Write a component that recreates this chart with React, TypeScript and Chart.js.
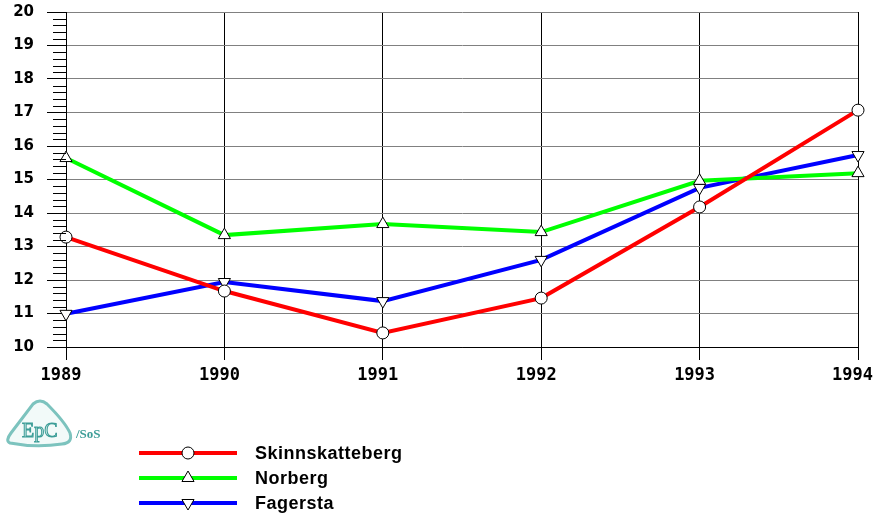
import React, { useEffect, useRef } from 'react';
import { Chart, registerables } from 'chart.js';
Chart.register(...registerables);

const years = ['1989', '1990', '1991', '1992', '1993', '1994'];
const skinnskatteberg = [13.28, 11.67, 10.42, 11.46, 14.18, 17.07];
const norberg = [15.64, 13.34, 13.67, 13.43, 14.96, 15.19];
const fagersta = [10.99, 11.94, 11.37, 12.6, 14.75, 15.73];
const seriesNames = ['Skinnskatteberg', 'Norberg', 'Fagersta'];
const yMin = 10;
const yMax = 20;

function drawMarker(ctx: CanvasRenderingContext2D, style: string, rotation: number, x: number, y: number, r: number) {
  ctx.save();
  ctx.fillStyle = '#ffffff';
  ctx.strokeStyle = '#000000';
  ctx.lineWidth = 1;
  ctx.beginPath();
  if (style === 'circle') {
    ctx.ellipse(x, y, r, r, 0, 0, Math.PI * 2);
  } else {
    let rad = (rotation * Math.PI) / 180;
    for (let i = 0; i < 3; i++) {
      const px = x + Math.sin(rad) * r;
      const py = y - Math.cos(rad) * r;
      if (i === 0) ctx.moveTo(px, py);
      else ctx.lineTo(px, py);
      rad += (2 * Math.PI) / 3;
    }
    ctx.closePath();
  }
  ctx.fill();
  ctx.stroke();
  ctx.restore();
}

const extrasPlugin = {
  id: 'extras',
  afterDatasetsDraw(chart: any) {
    const ctx: CanvasRenderingContext2D = chart.ctx;
    const ys = chart.scales.y;
    const xs = chart.scales.x;
    const left = chart.chartArea.left;
    const bottom = chart.chartArea.bottom;
    // minor ticks
    ctx.save();
    ctx.strokeStyle = '#000000';
    ctx.lineWidth = 1;
    for (let v = yMin; v < yMax; v += 1) {
      for (let k = 1; k < 5; k++) {
        const py = Math.round(ys.getPixelForValue(v + k * 0.2)) + 0.5;
        ctx.beginPath();
        ctx.moveTo(left - 13, py);
        ctx.lineTo(left, py);
        ctx.stroke();
      }
    }
    ctx.restore();
    // x labels
    ctx.save();
    ctx.fillStyle = '#000000';
    ctx.font = 'bold 17px "DejaVu Sans Mono", monospace';
    ctx.textBaseline = 'top';
    ctx.textAlign = 'left';
    (chart.data.labels as string[]).forEach((lab: string, i: number) => {
      const w = ctx.measureText(lab).width;
      let x = xs.getPixelForValue(i) - 5 - w / 2;
      if (x + w > chart.width - 1) x = chart.width - 1 - w;
      ctx.fillText(lab, x, bottom + 20);
    });
    ctx.restore();
    // legend
    const ds = chart.data.datasets;
    const rowsY = [453, 478, 503];
    ds.forEach((d: any, i: number) => {
      const y = rowsY[i];
      ctx.save();
      ctx.strokeStyle = d.borderColor;
      ctx.lineWidth = 4;
      ctx.beginPath();
      ctx.moveTo(139, y);
      ctx.lineTo(237, y);
      ctx.stroke();
      ctx.restore();
      drawMarker(ctx, d.pointStyle, d.rotation || 0, 188, y, d.pointStyle === 'circle' ? 6 : 7);
      ctx.save();
      ctx.fillStyle = '#000000';
      ctx.font = 'bold 18px "Liberation Sans", Arial, sans-serif';
      (ctx as any).letterSpacing = '0.5px';
      ctx.textBaseline = 'middle';
      ctx.textAlign = 'left';
      ctx.fillText(d.label, 255, y + 1);
      ctx.restore();
    });
  },
};

export default function App() {
  const ref = useRef<HTMLCanvasElement | null>(null);
  useEffect(() => {
    document.body.style.margin = '0';
    const canvas = ref.current;
    if (!canvas) return;
    const mk = (label: string, data: number[], color: string, style: string, rotation: number, r: number) => ({
      label,
      data,
      borderColor: color,
      backgroundColor: '#ffffff',
      borderWidth: 4,
      pointStyle: style,
      rotation,
      pointRotation: rotation,
      pointRadius: r,
      pointBackgroundColor: '#ffffff',
      pointBorderColor: '#000000',
      pointBorderWidth: 1,
      tension: 0,
      fill: false,
    });
    const chart = new Chart(canvas, {
      type: 'line',
      data: {
        labels: years,
        datasets: [
          mk(seriesNames[0], skinnskatteberg, '#ff0000', 'circle', 0, 6),
          mk(seriesNames[1], norberg, '#00ff00', 'triangle', 0, 7),
          mk(seriesNames[2], fagersta, '#0000ff', 'triangle', 180, 7),
        ] as any,
      },
      options: {
        animation: false,
        responsive: false,
        maintainAspectRatio: false,
        layout: { padding: { left: 0, top: 12, right: 16, bottom: 131 } },
        plugins: { legend: { display: false }, tooltip: { enabled: false } },
        scales: {
          x: {
            type: 'category',
            offset: false,
            grid: { color: '#000000', tickLength: 13, tickColor: '#000000', lineWidth: 1 },
            border: { color: '#000000' },
            ticks: {
              color: 'rgba(0,0,0,0)',
              font: { family: '"DejaVu Sans Mono", monospace', size: 17, weight: 'bold' },
              maxRotation: 0,
              padding: 6,
            },
            afterFit: (s: any) => { s.height = 40; s.paddingLeft = 0; s.paddingRight = 0; },
          },
          y: {
            min: yMin,
            max: yMax,
            grid: {
              color: (c: any) => (c.tick && c.tick.value === yMin ? '#000000' : '#808080'),
              tickColor: '#000000',
              tickLength: 19,
              lineWidth: 1,
            },
            border: { color: '#000000' },
            ticks: {
              stepSize: 1,
              color: '#000000',
              font: { family: '"DejaVu Sans", sans-serif', size: 15, weight: 'bold' },
              padding: 13,
            },
            afterFit: (s: any) => { s.width = 66; s.paddingTop = 0; s.paddingBottom = 0; },
          },
        },
      },
      plugins: [extrasPlugin],
    });
    return () => chart.destroy();
  }, []);
  return (
    <div style={{ position: 'relative', width: 874, height: 518, background: '#ffffff' }}>
      <canvas ref={ref} width={874} height={518} style={{ width: 874, height: 518, display: 'block' }} />
      <svg style={{ position: 'absolute', left: 0, top: 395, width: 110, height: 55 }} viewBox="0 0 110 55">
        <path d="M10 48 Q5 46 11 38 L33 9 Q40 3 47 9 Q65 27 70 38 Q73 48 62 49 Q36 53 10 48 Z" fill="#f2faf9" stroke="#7cc3be" strokeWidth="3" />
        <text x="22" y="42" fontFamily="'Liberation Serif', serif" fontSize="20" fill="#cfe9e7" stroke="#3c9d97" strokeWidth="1">EpC</text>
        <text x="76" y="43" fontFamily="'Liberation Serif', serif" fontSize="13" fontWeight="bold" fill="#3c9d97">/SoS</text>
      </svg>
    </div>
  );
}
